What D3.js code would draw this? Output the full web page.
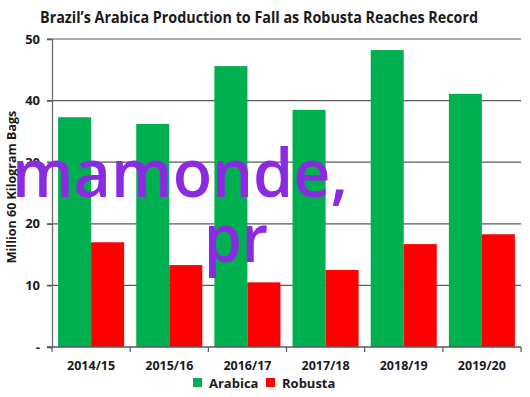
<!DOCTYPE html>
<html>
<head>
<meta charset="utf-8">
<script src="https://cdn.jsdelivr.net/npm/d3@7"></script>
<style>
  body { margin: 0; background: #fff; }
  text { font-family: "Open Sans", "Noto Sans", sans-serif; }
</style>
</head>
<body>
<div id="chart"></div>
<script>
// data
var seasons = ["2014/15", "2015/16", "2016/17", "2017/18", "2018/19", "2019/20"];
var arabica = [37.3, 36.2, 45.6, 38.5, 48.2, 41.1];
var robusta = [17.0, 13.3, 10.5, 12.5, 16.7, 18.3];
var seriesNames = ["Arabica", "Robusta"];
var seriesColors = ["#00b050", "#ff0000"];
var yTicks = [0, 10, 20, 30, 40, 50];

var W = 530, H = 397;
var margin = {top: 39, right: 9, bottom: 50, left: 52},
    width = W - margin.left - margin.right,
    height = H - margin.top - margin.bottom;

var svg = d3.select("#chart").append("svg")
    .attr("width", W)
    .attr("height", H);

var g = svg.append("g")
    .attr("transform", "translate(" + margin.left + "," + margin.top + ")");

var x = d3.scaleBand().domain(seasons).range([0, width]).paddingInner(0.155).paddingOuter(0.078);
var x1 = d3.scaleBand().domain(seriesNames).range([0, x.bandwidth()]);
var y = d3.scaleLinear().domain([0, 50]).range([height, 0]);

// gridlines
g.selectAll(".grid")
    .data(yTicks.slice(1))
    .enter().append("line")
    .attr("x1", -5).attr("x2", width)
    .attr("y1", function (d) { return y(d); })
    .attr("y2", function (d) { return y(d); })
    .attr("stroke", "#5a5a5a")
    .attr("stroke-width", 1.2);

// bars
var rows = seasons.map(function (s, i) {
    return {season: s, vals: [arabica[i], robusta[i]]};
});
var grp = g.selectAll(".grp").data(rows).enter().append("g")
    .attr("transform", function (d) { return "translate(" + x(d.season) + ",0)"; });
grp.selectAll("rect")
    .data(function (d) { return d.vals.map(function (v, k) { return {k: k, v: v}; }); })
    .enter().append("rect")
    .attr("x", function (d) { return x1(seriesNames[d.k]); })
    .attr("width", x1.bandwidth())
    .attr("y", function (d) { return y(d.v); })
    .attr("height", function (d) { return height - y(d.v); })
    .attr("fill", function (d) { return seriesColors[d.k]; });

// y axis
var yAxis = g.append("g")
    .call(d3.axisLeft(y).tickValues(yTicks).tickSize(5)
        .tickFormat(function (d) { return d === 0 ? "-" : d; }));
yAxis.select(".domain").attr("stroke", "#6e6e6e").attr("stroke-width", 1.3);
yAxis.selectAll(".tick line").attr("stroke", "#5a5a5a").attr("stroke-width", 1.2);
yAxis.selectAll(".tick text")
    .attr("x", -12)
    .style("font-size", "13px").style("font-weight", "bold").attr("fill", "#1a1a1a");

// x axis: ticks at category boundaries
var xAxisG = g.append("g").attr("transform", "translate(0," + height + ")");
xAxisG.append("line")
    .attr("x1", -5).attr("x2", width)
    .attr("stroke", "#5a5a5a").attr("stroke-width", 1.3);
var bounds = d3.range(seasons.length + 1).map(function (i) { return i * width / seasons.length; });
xAxisG.selectAll(".xt").data(bounds).enter().append("line")
    .attr("x1", function (d) { return d; }).attr("x2", function (d) { return d; })
    .attr("y1", 0).attr("y2", 5)
    .attr("stroke", "#5a5a5a").attr("stroke-width", 1.2);
xAxisG.selectAll(".xl").data(seasons).enter().append("text")
    .attr("x", function (d) { return x(d) + x.bandwidth() / 2; })
    .attr("y", 23)
    .attr("text-anchor", "middle")
    .style("font-size", "12.5px").style("font-weight", "bold").attr("fill", "#1a1a1a")
    .text(function (d) { return d; });

// axis title
svg.append("text")
    .attr("transform", "translate(16,187) rotate(-90)")
    .attr("text-anchor", "middle")
    .style("font-size", "12.5px").style("font-weight", "bold").attr("fill", "#1a1a1a")
    .text("Million 60 Kilogram Bags");

// title
svg.append("text")
    .attr("x", 259).attr("y", 23)
    .attr("text-anchor", "middle")
    .attr("textLength", 438).attr("lengthAdjust", "spacingAndGlyphs")
    .style("font-size", "16px").style("font-weight", "bold").attr("fill", "#1a1a1a")
    .text("Brazil\u2019s Arabica Production to Fall as Robusta Reaches Record");

// legend
var legend = svg.append("g").attr("transform", "translate(193,378)");
var lx = [0, 73];
seriesNames.forEach(function (n, i) {
    legend.append("rect").attr("x", lx[i]).attr("y", 0).attr("width", 9).attr("height", 9)
        .attr("fill", seriesColors[i]);
    legend.append("text").attr("x", lx[i] + 16).attr("y", 9.5)
        .style("font-size", "13px").style("font-weight", "bold").attr("fill", "#1a1a1a")
        .text(n);
});

// overlaid purple text
svg.append("text")
    .attr("x", 12).attr("y", 197)
    .attr("textLength", 336).attr("lengthAdjust", "spacingAndGlyphs")
    .style("font-size", "67px").style("font-weight", "600").attr("fill", "#8a2be2")
    .text("mamonde,");
svg.append("text")
    .attr("x", 204).attr("y", 262)
    .attr("textLength", 64).attr("lengthAdjust", "spacingAndGlyphs")
    .style("font-size", "67px").style("font-weight", "600").attr("fill", "#8a2be2")
    .text("pr");
</script>
</body>
</html>
